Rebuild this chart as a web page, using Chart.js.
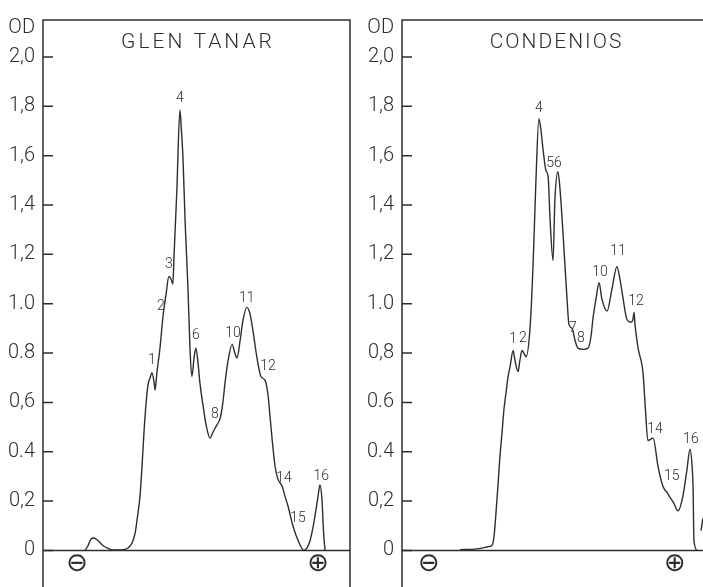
<!DOCTYPE html>
<html><head><meta charset="utf-8">
<script src="https://cdn.jsdelivr.net/npm/chart.js@4/dist/chart.umd.min.js"></script>
<style>
html,body{margin:0;padding:0;background:#fff;overflow:hidden;width:703px;height:587px;}
#c1{position:absolute;left:0;top:0;}
#c2{position:absolute;left:352px;top:0;}
</style></head><body>
<canvas id="c1" width="352" height="600"></canvas>
<canvas id="c2" width="360" height="600"></canvas>
<script>
// ---- Data (migration distance 0-100 across the panel, optical density) ----
const tickValues = [0, 0.2, 0.4, 0.6, 0.8, 1.0, 1.2, 1.4, 1.6, 1.8, 2.0];
const glenTickLabels = ["0", "0,2", "0.4", "0,6", "0.8", "1.0", "1,2", "1,4", "1,6", "1,8", "2,0"];
const condTickLabels = ["0", "0,2", "0.4", "0.6", "0,8", "1.0", "1,2", "1,4", "1,6", "1,8", "2,0"];

const glenX = [13.7,14.7,15.6,16.6,17.9,19.5,21.2,22.8,25.7,27.7,29.0,30.0,30.6,31.6,32.2,32.9,33.6,34.2,34.9,35.5,36.2,36.5,37.1,38.1,39.1,40.1,41.0,41.7,42.3,42.7,43.6,44.6,45.0,45.6,46.3,47.2,47.9,48.5,49.2,49.8,50.5,51.1,52.1,53.1,54.4,55.4,56.7,57.7,58.6,59.3,60.3,61.6,62.5,63.2,64.2,65.1,66.4,67.4,68.4,69.7,71.0,72.3,73.3,73.9,74.6,75.6,76.5,77.9,78.8,79.8,81.4,83.1,85.0,86.0,87.0,87.9,88.6,89.6,90.2,90.9,91.2,91.5,91.9];
const glenOD = [0,0.02,0.045,0.05,0.04,0.02,0.008,0.002,0.002,0.01,0.03,0.07,0.12,0.22,0.33,0.48,0.6,0.67,0.70,0.72,0.68,0.65,0.72,0.82,0.95,1.04,1.11,1.10,1.08,1.2,1.46,1.785,1.72,1.59,1.33,1.07,0.81,0.705,0.78,0.82,0.76,0.68,0.59,0.51,0.455,0.48,0.51,0.535,0.6,0.68,0.77,0.835,0.80,0.78,0.85,0.93,0.985,0.96,0.89,0.78,0.705,0.69,0.63,0.55,0.455,0.34,0.29,0.26,0.22,0.18,0.10,0.04,0.0,0.01,0.04,0.09,0.14,0.22,0.265,0.2,0.12,0.05,0.0];

const condX = [18.9,23.8,26.4,28.0,29.3,30.0,30.6,31.3,31.9,32.6,33.2,33.9,34.5,35.2,36.2,36.8,37.8,38.4,39.1,39.7,40.4,41.7,42.7,43.6,44.6,45.3,45.9,46.9,47.6,48.2,49.2,49.8,50.8,51.5,52.4,53.7,54.4,55.4,56.4,57.3,59.0,60.6,61.6,62.2,63.2,64.2,65.1,66.8,68.4,70.0,71.0,71.9,73.3,74.6,75.2,75.6,75.9,76.9,78.5,79.2,80.1,81.8,83.4,85.0,86.3,87.3,88.6,89.9,91.5,92.8,93.8,94.5,94.8,95.1,96.1,96.8,97.4,98.0];
const condOD = [0.003,0.005,0.01,0.015,0.02,0.06,0.15,0.27,0.38,0.48,0.57,0.64,0.70,0.745,0.81,0.77,0.725,0.77,0.81,0.80,0.785,0.90,1.16,1.49,1.75,1.70,1.63,1.54,1.515,1.35,1.175,1.42,1.535,1.46,1.295,1.03,0.915,0.90,0.85,0.82,0.815,0.82,0.87,0.94,1.02,1.085,1.02,0.97,1.06,1.15,1.10,1.03,0.935,0.925,0.935,0.965,0.915,0.82,0.72,0.59,0.445,0.455,0.34,0.26,0.235,0.215,0.19,0.16,0.22,0.325,0.41,0.34,0.26,0.04,0.0,null,0.08,0.13];

const glenPeakText = ["1","2","3","4","6","8","10","11","12","14","15","16"];
const glenPeakX = [35.5,38.4,41.0,44.6,49.8,56.0,61.9,66.4,73.3,78.5,83.1,90.6];
const glenPeakY = [0.77,0.99,1.16,1.83,0.87,0.55,0.88,1.02,0.745,0.29,0.13,0.30];

const condPeakText = ["1","2","4","56","7","8","10","11","12","14","15","16"];
const condPeakX = [36.2,39.4,44.6,49.5,55.7,58.3,64.5,70.4,76.2,82.4,87.9,94.1];
const condPeakY = [0.855,0.86,1.79,1.57,0.90,0.86,1.125,1.21,1.01,0.49,0.30,0.45];

const electrodeText = ["\u2296", "\u2295"];
const glenElectrodeX = [11.1, 89.6];
const condElectrodeX = [8.8, 88.9];

const ink = '#2e2e2e';
const fontFam = 'Roboto, "DejaVu Sans", sans-serif';

const decor = {
  id: 'decor',
  beforeDatasetsDraw(chart, args, o) {
    const {ctx, chartArea: a, scales: {x, y}} = chart;
    ctx.save();
    ctx.strokeStyle = ink; ctx.lineWidth = 1.5;
    ctx.beginPath();
    ctx.moveTo(a.left, a.bottom + 20); ctx.lineTo(a.left, a.top);
    ctx.lineTo(a.right, a.top); ctx.lineTo(a.right, a.bottom + 20);
    ctx.stroke();
    const y0 = y.getPixelForValue(0);
    ctx.beginPath(); ctx.moveTo(a.left, y0); ctx.lineTo(a.right, y0); ctx.stroke();
    ctx.beginPath();
    y.ticks.forEach(t => { const py = y.getPixelForValue(t.value); ctx.moveTo(a.left, py); ctx.lineTo(a.left + 10, py); });
    ctx.stroke();
    ctx.restore();
  },
  afterDraw(chart, args, o) {
    const {ctx, chartArea: a, scales: {x, y}} = chart;
    ctx.save();
    ctx.fillStyle = ink;
    // OD label
    ctx.font = '300 20px ' + fontFam;
    ctx.textAlign = 'right'; ctx.textBaseline = 'middle';
    ctx.fillText('OD', a.left - 8, a.top + 8);
    // title
    ctx.font = '300 21px ' + fontFam;
    ctx.textAlign = 'center';
    ctx.letterSpacing = o.spacing + 'px';
    ctx.fillText(o.title, (a.left + a.right) / 2 + o.spacing / 2, a.top + 23);
    ctx.letterSpacing = '0px';
    // peak numbers
    ctx.font = '300 14px ' + fontFam;
    o.peakText.forEach((t, i) => {
      ctx.fillText(t, x.getPixelForValue(o.peakX[i]), y.getPixelForValue(o.peakY[i]));
    });
    // electrodes
    ctx.font = '26px "DejaVu Sans", sans-serif';
    electrodeText.forEach((t, i) => {
      ctx.fillText(t, x.getPixelForValue(o.elecX[i]), y.getPixelForValue(-0.055));
    });
    ctx.restore();
  }
};

function makePanel(id, xs, ys, tickLabels, axisWidth, padRight, opts) {
  const pts = xs.map((v, i) => ({x: v, y: ys[i]}));
  return new Chart(document.getElementById(id), {
    type: 'line',
    data: { datasets: [{ data: pts, borderColor: ink, borderWidth: 1.4, pointRadius: 0,
      cubicInterpolationMode: 'monotone', spanGaps: false, fill: false }] },
    options: {
      responsive: false, animation: false, devicePixelRatio: 1,
      layout: { padding: { top: 15, right: padRight, bottom: 6, left: 0 } },
      plugins: { legend: {display: false}, tooltip: {enabled: false}, title: {display: false}, decor: opts },
      scales: {
        x: { type: 'linear', min: 0, max: 100, display: false },
        y: { type: 'linear', min: -0.12, max: 2.15,
          afterBuildTicks: s => { s.ticks = tickValues.map(v => ({value: v})); },
          afterFit: s => { s.width = axisWidth; },
          grid: { display: false, drawTicks: false },
          border: { display: false },
          ticks: { padding: 8, autoSkip: false, color: ink,
            font: { family: fontFam, size: 20, weight: '300' },
            callback: (v, i) => tickLabels[i] }
        }
      }
    },
    plugins: [decor]
  });
}

makePanel('c1', glenX, glenOD, glenTickLabels, 43, 2,
  { title: 'GLEN TANAR', spacing: 3, peakText: glenPeakText, peakX: glenPeakX, peakY: glenPeakY, elecX: glenElectrodeX });
makePanel('c2', condX, condOD, condTickLabels, 50, 3,
  { title: 'CONDENIOS', spacing: 2, peakText: condPeakText, peakX: condPeakX, peakY: condPeakY, elecX: condElectrodeX });
</script>
</body></html>
